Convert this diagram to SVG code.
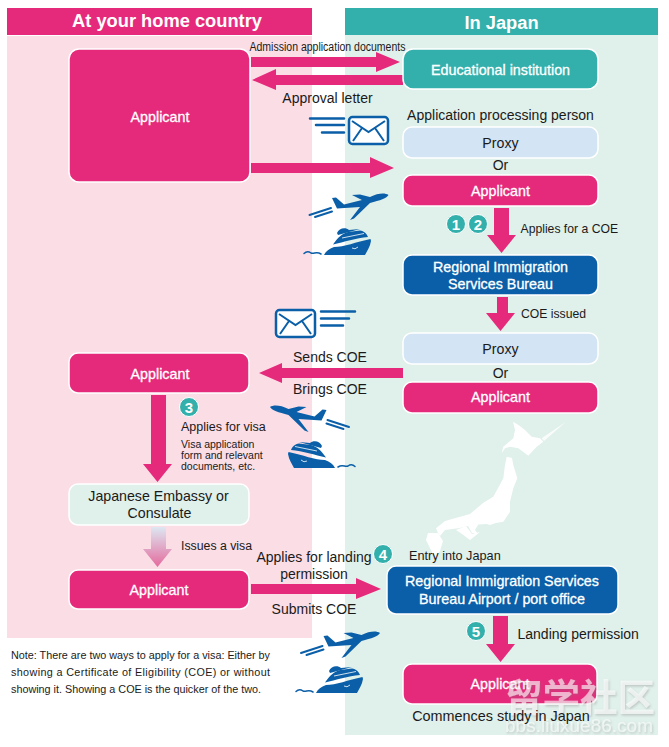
<svg xmlns="http://www.w3.org/2000/svg" width="669" height="747" viewBox="0 0 669 747">
<style>
text{font-family:"Liberation Sans",Arial,sans-serif;fill:#1a1a1a}
.m{text-anchor:middle}
.hd{font-size:18.300px;font-weight:bold;fill:#fff;text-anchor:middle}
.w{font-size:14.300px;fill:#fff;text-anchor:middle;stroke:#fff;stroke-width:.3}
.b{font-size:14.200px;text-anchor:middle}
.l{font-size:14px}
.s{font-size:12.200px}
.xs{font-size:10.500px}
.n{font-size:10.800px}
.box{stroke:#fff;stroke-width:1.5}
.pink{fill:#e62a7b}.teal{fill:#33b0ab}.navy{fill:#0a5fa8}.pale{fill:#d3e4f5}.mint{fill:#e0f0ea}
.ar{fill:#e62a7b}
.ico{fill:#0a5fa8}
.icl{fill:none;stroke:#0a5fa8;stroke-linecap:round}
.bt{fill:#33b0ab;stroke:#fff;stroke-width:1}
.bn{font-size:15px;font-weight:bold;fill:#fff;text-anchor:middle}
.wm{fill:#fff;fill-opacity:.6;filter:url(#sh)}
</style>
<defs>
<filter id="sh" x="-5%" y="-20%" width="110%" height="140%"><feDropShadow dx="1" dy="1.500" stdDeviation=".8" flood-color="#777" flood-opacity=".55"/></filter>
<linearGradient id="g" x1="0" y1="0" x2="0" y2="1"><stop offset="0" stop-color="#dde7f2"/><stop offset="1" stop-color="#e46a9c"/></linearGradient>
<g id="plane">
<path class="ico" d="M88.5 10C85 7.500 78 8 70 12L60 9.500L52 10L62 15L44 19.500L36 12.500L32 13L37 23.500L60 22L50 35L54 33.500L70 18C80 15.500 87 13 88.500 10Z"/>
<path class="icl" stroke-width="2" d="M9.500 30L31 23M15 32L32 26.500"/>
</g>
<g id="ship">
<path class="ico" d="M24 70C26 66 29 64 34 62C44 62 56 57 70.500 54L71 56C70 62 67 66 65 70Z"/>
<path class="ico" d="M33 59.500C38 52 42 49 48 47L60 45.500C64 46 67 49 68 52C56 53 44 57 33 59.500Z"/>
<path class="ico" d="M37 48C39 42.500 46 42 49 45L60 44L38 50Z"/>
<path class="icl" stroke-width="1.500" d="M4 68.500C7 65.500 9 66.500 11 68C14 69.500 16 66 21 69"/>
<path fill="none" stroke="#fff" stroke-width=".8" d="M52 63q3 2 6-1M42 53L64 48.500"/>
</g>
<g id="env">
<rect x="1" y="1" width="39" height="27" rx="3.500" fill="#fff" stroke="#0a5fa8" stroke-width="2.500"/>
<path d="M4 5L20.500 16L37 5M5 25L14 12M36 25L27 12" fill="none" stroke="#0a5fa8" stroke-width="2"/>
</g>
</defs>
<rect width="669" height="747" fill="#fff"/>
<rect x="7" y="36" width="305" height="602" fill="#fbdde6"/>
<rect x="345" y="35" width="313" height="700" fill="#e0f0ea"/>
<rect x="7" y="8" width="305" height="27" class="pink"/>
<rect x="345" y="8" width="313" height="27" class="teal"/>
<text x="167" y="27" class="hd">At your home country</text>
<text x="501.500" y="29" class="hd">In Japan</text>

<g id="japan" fill="#fff">
<path d="M513 421.700L518.500 425L525 430L531.700 436.700L540 438.300L543.300 441.700L536.700 446.700L528.300 455.700L518.300 448.300L510 446.700L505 448.300L501.700 453.300L503.300 446.700L513.300 438.300L515 430Z"/>
<path d="M541.700 438.300L566 421.700L544 441Z" fill-opacity=".8"/>
<path d="M506.700 456.700L512 458L513.300 465L517.300 478.300L513.300 488.300L510 501.700L510 511.700L506.700 516.700L503.300 521.700L495 523.300L490 525L486.700 524L478.300 524.500L475 530L478 534L472 533L468 526L460 528L445 530L440 536L438 533L436 528.300L445 521L470 514L483 503L493.300 496.700L503.300 478.300L505 465Z"/>
<path d="M456 530L466 526L472 534L480 532L470 540L462 534Z"/>
<path d="M428 533L438 533L443 541L440 551L435 558L430 548L426 540Z"/>
</g>

<g id="connectors">
<path class="ar" d="M251 57H376V52L400 62L376 72V67H251Z"/>
<path class="ar" d="M403 75H276V69L252 80L276 90V85H403Z"/>
<path class="ar" d="M251 163H370V157L394 168L370 178V173H251Z"/>
<path class="ar" d="M494 208H509V235H516L501.500 253L487 235H494Z"/>
<path class="ar" d="M497 297H508V313H515L500.500 331L486 313H497Z"/>
<path class="ar" d="M403 368H282V363L259 373L282 383V378H403Z"/>
<path class="ar" d="M151 395H166V464H172L157.500 482L143 464H151Z"/>
<path fill="url(#g)" d="M151 527H166V549H172L157.500 567L143 549H151Z"/>
<path class="ar" d="M251 584H356V578L381 589L356 599V594H251Z"/>
<path class="ar" d="M493 616H508V644H515L500.500 662L486 644H493Z"/>
</g>

<g id="n1"><rect class="box pink" x="69" y="49" width="181" height="133" rx="10"/><text x="160" y="122" class="w">Applicant</text></g>
<g id="n2"><rect class="box teal" x="403" y="49" width="195" height="40" rx="10"/><text x="500.500" y="75" class="w">Educational institution</text></g>
<g id="n3"><rect class="box pale" x="403" y="127" width="195" height="31" rx="9"/><text x="500.500" y="148" class="b">Proxy</text></g>
<g id="n4"><rect class="box pink" x="403" y="175" width="195" height="31" rx="9"/><text x="500.500" y="196" class="w">Applicant</text></g>
<g id="n5"><rect class="box navy" x="403" y="255" width="195" height="40" rx="9"/><text x="500.500" y="272" class="w">Regional Immigration</text><text x="500.500" y="289" class="w">Services Bureau</text></g>
<g id="n6"><rect class="box pale" x="403" y="333" width="195" height="31" rx="9"/><text x="500.500" y="354" class="b">Proxy</text></g>
<g id="n7"><rect class="box pink" x="403" y="382" width="195" height="31" rx="9"/><text x="500.500" y="402" class="w">Applicant</text></g>
<g id="n8"><rect class="box pink" x="69" y="353" width="180" height="40" rx="9"/><text x="160" y="379" class="w">Applicant</text></g>
<g id="n9"><rect class="box mint" x="69" y="484" width="180" height="41" rx="9"/><text x="158.500" y="501" class="b">Japanese Embassy or</text><text x="159.500" y="518" class="b">Consulate</text></g>
<g id="n10"><rect class="box pink" x="69" y="570" width="180" height="39" rx="9"/><text x="159" y="595" class="w">Applicant</text></g>
<g id="n11"><rect class="box navy" x="387" y="566" width="231" height="48" rx="9"/><text x="502" y="586" class="w">Regional Immigration Services</text><text x="502" y="604" class="w">Bureau Airport / port office</text></g>
<g id="n12"><rect class="box pink" x="403" y="664" width="194" height="40" rx="9"/><text x="500" y="689" class="w">Applicant</text></g>

<g id="watermark">
<text x="505" y="711" font-size="38" font-weight="bold" class="wm" style="font-family:'Noto Sans CJK SC',sans-serif" textLength="150" lengthAdjust="spacingAndGlyphs">留学社区</text>
<text x="505" y="732" font-size="18" class="wm" textLength="148" lengthAdjust="spacingAndGlyphs">bbs.liuxue86.com</text>
</g>

<g id="labels">
<text x="249.500" y="51" font-size="12" textLength="156" lengthAdjust="spacingAndGlyphs">Admission application documents</text>
<text x="327.500" y="103" class="m l">Approval letter</text>
<text x="500.500" y="120" class="m l">Application processing person</text>
<text x="500.500" y="170" class="m l">Or</text>
<text x="520.500" y="233" class="s">Applies for a COE</text>
<text x="521" y="318" class="s">COE issued</text>
<text x="500.500" y="378" class="m l">Or</text>
<text x="330" y="362" class="m l">Sends COE</text>
<text x="330" y="394" class="m l">Brings COE</text>
<text x="181" y="431" font-size="12.500">Applies for visa</text>
<text x="181" y="448" class="xs">Visa application</text>
<text x="181" y="459" class="xs">form and relevant</text>
<text x="181" y="470" class="xs">documents, etc.</text>
<text x="181" y="550" font-size="12.300">Issues a visa</text>
<text x="314" y="562" class="m l">Applies for landing</text>
<text x="314" y="579" class="m l">permission</text>
<text x="314" y="614" class="m l">Submits COE</text>
<text x="409" y="560" font-size="12.700">Entry into Japan</text>
<text x="517.500" y="639" class="l">Landing permission</text>
<text x="501" y="721" class="m" font-size="14.400">Commences study in Japan</text>
<text x="11" y="659" class="n" textLength="259">Note: There are two ways to apply for a visa: Either by</text>
<text x="11" y="676" class="n" textLength="259">showing a Certificate of Eligibility (COE) or without</text>
<text x="11" y="693" class="n" textLength="250">showing it. Showing a COE is the quicker of the two.</text>
</g>

<g id="badges">
<circle class="bt" cx="456" cy="224" r="9.500"/><text x="456" y="229.500" class="bn">1</text>
<circle class="bt" cx="478" cy="224" r="9.500"/><text x="478" y="229.500" class="bn">2</text>
<circle class="bt" cx="189" cy="407" r="9.500"/><text x="189" y="412.500" class="bn">3</text>
<circle class="bt" cx="383" cy="554" r="9.500"/><text x="383" y="559.500" class="bn">4</text>
<circle class="bt" cx="476" cy="631" r="9.500"/><text x="476" y="636.500" class="bn">5</text>
</g>

<g id="icons">
<use href="#env" x="348" y="116"/>
<path class="icl" stroke-width="2.500" d="M310 118.500H344M316 125H344M322 132.500H344"/>
<use href="#env" x="275" y="309"/>
<path class="icl" stroke-width="2.500" d="M321 311.500H355M321 318.500H349M321 325.500H343"/>
<use href="#plane" transform="translate(300 185)"/>
<use href="#ship" transform="translate(300 185)"/>
<use href="#plane" transform="translate(358.500 397) scale(-1 1)"/>
<use href="#ship" transform="translate(359 398) scale(-1 1)"/>
<use href="#plane" transform="translate(291.500 623)"/>
<use href="#ship" transform="translate(292 623)"/>
</g>
</svg>
